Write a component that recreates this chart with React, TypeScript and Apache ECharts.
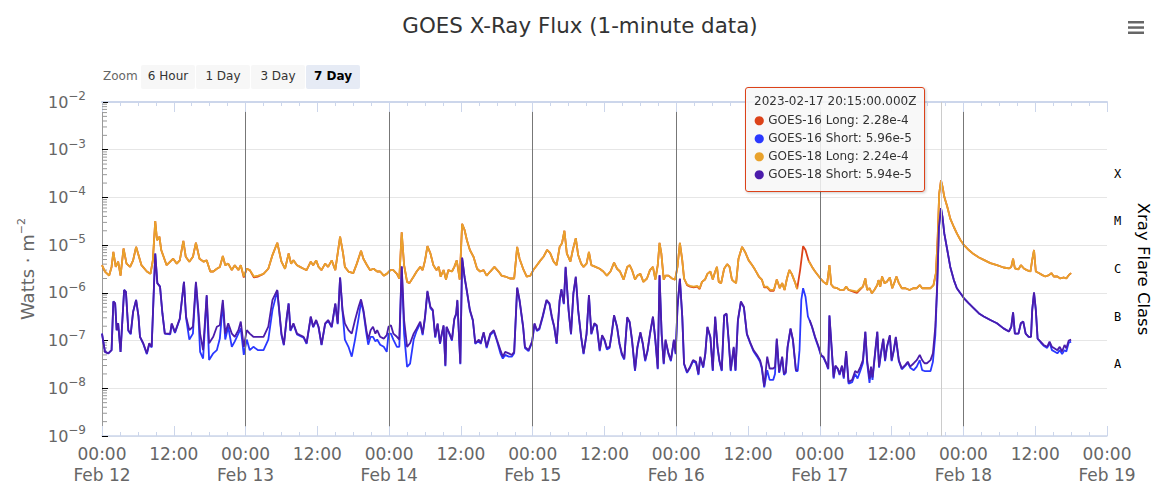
import React, { useEffect, useRef } from "react";
import * as echarts from "echarts";

const START = Date.UTC(2023, 1, 12);
const END = Date.UTC(2023, 1, 19);
const HOUR = 3600 * 1000;
const FONT = '"DejaVu Sans", Verdana, sans-serif';

const TITLE = "GOES X-Ray Flux (1-minute data)";
const seriesNames = ["GOES-16 Long", "GOES-16 Short", "GOES-18 Long", "GOES-18 Short"];
const seriesColors = ["#dc4219", "#2a38ff", "#e9a22c", "#4b1cab"];

// hours since 2023-02-12 00:00Z
const longHours = [
  0, 0.5, 1.2, 1.6, 1.9, 2.3, 2.7, 3.1, 3.6, 4.1,
  4.7, 5.2, 5.7, 6.1, 6.6, 7.5, 8.1, 8.5, 8.9, 9.2,
  9.6, 9.9, 10.3, 10.8, 11.4, 11.9, 12.5, 13.0, 13.6, 14.0,
  14.6, 15.2, 15.7, 16.3, 17.0, 17.5, 18.1, 18.6, 19.2, 19.7,
  20.2, 20.6, 21.1, 21.7, 22.2, 22.8, 23.2, 23.7, 24.2, 24.7,
  25.4, 26.1, 27.0, 27.8, 28.5, 29.3, 30.0, 30.6, 31.2, 31.6,
  32.0, 32.6, 33.1, 33.7, 34.2, 34.9, 35.3, 35.8, 36.2, 36.7,
  37.3, 37.8, 38.4, 39.0, 39.4, 39.8, 40.3, 40.6, 41.2, 42.0,
  42.6, 43.3, 43.7, 44.3, 44.8, 45.4, 46.0, 46.5, 47.1, 47.6,
  48.2, 48.7, 49.3, 49.7, 50.1, 50.5, 51.0, 51.4, 52.1, 52.6,
  53.2, 53.6, 54.0, 54.4, 54.9, 55.4, 55.9, 56.3, 56.6, 57.1,
  57.5, 57.9, 58.5, 58.9, 59.3, 59.8, 60.2, 60.6, 61.0, 61.5,
  62.1, 62.7, 63.2, 63.8, 64.3, 64.9, 65.6, 66.3, 66.8, 67.4,
  68.2, 68.9, 69.4, 69.8, 70.4, 71.0, 71.6, 72.1, 72.7, 73.3,
  73.8, 74.4, 74.9, 75.5, 76.0, 76.5, 76.9, 77.3, 77.7, 78.3,
  78.7, 79.2, 79.6, 80.1, 80.5, 81.0, 81.4, 81.8, 82.5, 83.2,
  83.8, 84.4, 85.0, 85.6, 86.1, 86.6, 87.2, 87.8, 88.2, 88.6,
  89.1, 89.5, 90.0, 90.5, 91.1, 91.6, 92.1, 92.5, 92.9, 93.2,
  93.5, 93.9, 94.2, 94.7, 95.3, 95.8, 96.2, 96.6, 97.0, 97.3,
  97.8, 98.3, 98.9, 99.5, 99.9, 100.3, 100.8, 101.2, 101.7, 102.1,
  102.5, 102.8, 103.1, 103.5, 104.0, 104.5, 104.9, 105.3, 105.7, 106.0,
  106.4, 107.0, 107.5, 108.1, 108.7, 109.2, 109.8, 110.3, 110.7, 111.2,
  111.7, 112.3, 112.8, 113.3, 113.7, 114.1, 114.5, 114.9, 115.3, 115.9,
  116.2, 116.7, 117.2, 117.6, 118.1, 118.7, 119.2, 120.1, 120.6, 121.2,
  121.6, 121.9, 122.3, 122.9, 123.4, 124.0, 124.4, 124.8, 125.7, 126.2,
  126.8, 127.2, 127.6, 127.9, 128.3, 128.7, 129.1, 129.6, 129.8, 130.1,
  130.4, 130.8, 131.2, 131.7, 132.1, 132.5, 132.8, 133.2, 133.7, 134.3,
  135.0, 135.6, 136.2, 136.7, 137.1, 137.6, 138.5, 139.0, 139.4, 139.7,
  139.95, 140.25, 140.5, 140.8, 141.3, 141.8, 142.4, 142.9, 143.5, 144.1,
  144.9, 145.7, 146.6, 147.4, 148.5, 149.6, 150.7, 151.6, 152.0, 152.3,
  152.6, 153.2, 153.6, 154.1, 154.6, 155.2, 155.5, 155.8, 156.1, 156.6,
  157.2, 157.7, 158.3, 158.7, 159.1, 159.7, 160.2, 160.8, 161.2, 161.6,
  162.0,
];

const g18Long = [
  3.8e-6, 2.8e-6, 2.3e-6, 3.5e-6, 7.2e-6, 3.5e-6, 4.5e-6, 2.3e-6, 8.5e-6, 4.1e-6,
  3.5e-6, 4.8e-6, 9.2e-6, 6.2e-6, 3.8e-6, 2.8e-6, 2.5e-6, 4.8e-6, 3.2e-5, 1.27e-5,
  1.5e-5, 7.9e-6, 5.7e-6, 3.8e-6, 4.5e-6, 5.2e-6, 4.1e-6, 4.8e-6, 1.23e-5, 5.7e-6,
  4.5e-6, 5.7e-6, 1.12e-5, 5.2e-6, 4.5e-6, 4.8e-6, 2.8e-6, 2.8e-6, 3.2e-6, 3.5e-6,
  5.9e-6, 3.8e-6, 4.1e-6, 3.0e-6, 3.8e-6, 3.0e-6, 3.8e-6, 2.2e-6, 3.2e-6, 3.0e-6,
  2.2e-6, 2.3e-6, 2.5e-6, 3.2e-6, 6.2e-6, 1.12e-5, 4.5e-6, 3.2e-6, 6.7e-6, 4.1e-6,
  4.8e-6, 3.8e-6, 3.5e-6, 3.2e-6, 3.0e-6, 4.5e-6, 3.8e-6, 4.8e-6, 3.5e-6, 3.0e-6,
  4.1e-6, 3.5e-6, 4.8e-6, 3.0e-6, 6.7e-6, 1.5e-5, 6.7e-6, 3.5e-6, 2.8e-6, 2.6e-6,
  4.1e-6, 7.6e-6, 5.2e-6, 3.8e-6, 3.0e-6, 3.2e-6, 2.8e-6, 2.8e-6, 2.3e-6, 2.5e-6,
  3.0e-6, 3.0e-6, 2.5e-6, 2.0e-6, 1.85e-5, 3.8e-6, 1.7e-6, 1.6e-6, 2.2e-6, 2.8e-6,
  3.5e-6, 3.0e-6, 4.8e-6, 9.5e-6, 6.7e-6, 3.8e-6, 3.0e-6, 3.5e-6, 2.2e-6, 3.0e-6,
  1.9e-6, 3.0e-6, 2.8e-6, 3.5e-6, 4.8e-6, 1.9e-6, 2.8e-5, 2.1e-5, 1.27e-5, 7.9e-6,
  5.7e-6, 3.2e-6, 2.8e-6, 3.0e-6, 2.3e-6, 2.8e-6, 3.5e-6, 2.8e-6, 2.3e-6, 2.2e-6,
  2.0e-6, 2.0e-6, 9.2e-6, 5.2e-6, 3.2e-6, 2.2e-6, 2.3e-6, 3.0e-6, 3.8e-6, 4.8e-6,
  5.7e-6, 7.9e-6, 6.9e-6, 4.5e-6, 3.8e-6, 9.2e-6, 1.1e-5, 2.0e-5, 6.7e-6, 4.5e-6,
  7.9e-6, 1.4e-5, 6.2e-6, 4.1e-6, 3.5e-6, 4.1e-6, 7.2e-6, 3.8e-6, 3.5e-6, 3.2e-6,
  2.8e-6, 2.3e-6, 2.8e-6, 4.3e-6, 3.2e-6, 2.8e-6, 1.9e-6, 3.5e-6, 3.8e-6, 3.0e-6,
  1.9e-6, 2.3e-6, 2.5e-6, 1.7e-6, 2.0e-6, 3.0e-6, 3.5e-6, 1.9e-6, 3.8e-6, 1.12e-5,
  6.7e-6, 1.9e-6, 2.3e-6, 2.3e-6, 2.0e-6, 1.9e-6, 3.5e-6, 1.12e-5, 4.8e-6, 2.0e-6,
  1.5e-6, 1.4e-6, 1.35e-6, 1.4e-6, 1.25e-6, 1.7e-6, 1.9e-6, 2.5e-6, 2.8e-6, 1.9e-6,
  2.8e-6, 3.5e-6, 1.7e-6, 1.6e-6, 3.2e-6, 4.0e-6, 3.5e-6, 1.9e-6, 1.7e-6, 1.6e-6,
  5.2e-6, 9.2e-6, 7.2e-6, 4.8e-6, 3.8e-6, 3.0e-6, 2.2e-6, 1.9e-6, 1.35e-6, 1.35e-6,
  1.15e-6, 1.15e-6, 1.9e-6, 1.25e-6, 1.6e-6, 1.15e-6, 2.0e-6, 3.0e-6, 2.5e-6, 1.6e-6,
  1.2e-6, null, null, null, 4.7e-6, 3.5e-6, 2.8e-6, 2.0e-6, 1.7e-6, 1.5e-6,
  3.8e-6, 1.5e-6, 1.3e-6, 1.25e-6, 1.15e-6, 1.15e-6, 1.35e-6, 1.15e-6, 1.1e-6, 1.06e-6,
  1.25e-6, 1.35e-6, 2.0e-6, 1.15e-6, 1.25e-6, 9.8e-7, 1.15e-6, 1.46e-6, 1.85e-6, 1.35e-6,
  2.2e-6, 1.6e-6, 1.7e-6, 2.1e-6, 1.25e-6, 1.7e-6, 2.2e-6, 1.6e-6, 1.25e-6, 1.25e-6,
  1.15e-6, 1.25e-6, 1.25e-6, 1.46e-6, 1.25e-6, 1.25e-6, 1.25e-6, 1.46e-6, 2.6e-6, 1.5e-5,
  1.2e-4, 2.24e-4, 1.7e-4, 1.03e-4, 6.4e-5, 3.6e-5, 2.4e-5, 1.76e-5, 1.28e-5, 1.0e-5,
  7.9e-6, 6.5e-6, 5.5e-6, 4.9e-6, 4.2e-6, 3.8e-6, 3.4e-6, 3.25e-6, 3.5e-6, 5.2e-6,
  3.25e-6, 3.1e-6, 3.8e-6, 3.25e-6, 3.0e-6, 2.8e-6, 4.9e-6, 7.9e-6, 2.8e-6, 2.6e-6,
  2.35e-6, 2.2e-6, 2.35e-6, 2.6e-6, 2.2e-6, 2.2e-6, 2.0e-6, 2.1e-6, 2.0e-6, 2.35e-6,
  2.6e-6,
];

const g16Long = [
  3.8e-6, 2.8e-6, 2.3e-6, 3.5e-6, 7.2e-6, 3.5e-6, 4.5e-6, 2.3e-6, 8.5e-6, 4.1e-6,
  3.5e-6, 4.8e-6, 9.2e-6, 6.2e-6, 3.8e-6, 2.8e-6, 2.5e-6, 4.8e-6, 3.2e-5, 1.27e-5,
  1.5e-5, 7.9e-6, 5.7e-6, 3.8e-6, 4.5e-6, 5.2e-6, 4.1e-6, 4.8e-6, 1.23e-5, 5.7e-6,
  4.5e-6, 5.7e-6, 1.12e-5, 5.2e-6, 4.5e-6, 4.8e-6, 2.8e-6, 2.8e-6, 3.2e-6, 3.5e-6,
  5.9e-6, 3.8e-6, 4.1e-6, 3.0e-6, 3.8e-6, 3.0e-6, 3.8e-6, 2.1e-6, 3.2e-6, 3.0e-6,
  2.1e-6, 2.2e-6, 2.5e-6, 3.2e-6, 6.2e-6, 1.12e-5, 4.5e-6, 3.2e-6, 6.7e-6, 4.1e-6,
  4.8e-6, 3.8e-6, 3.5e-6, 3.2e-6, 3.0e-6, 4.5e-6, 3.8e-6, 4.8e-6, 3.5e-6, 3.0e-6,
  4.1e-6, 3.5e-6, 4.8e-6, 3.0e-6, 6.7e-6, 1.5e-5, 6.7e-6, 3.5e-6, 2.8e-6, 2.6e-6,
  4.1e-6, 7.6e-6, 5.2e-6, 3.8e-6, 3.0e-6, 3.2e-6, 2.8e-6, 2.8e-6, 2.3e-6, 2.5e-6,
  3.0e-6, 3.0e-6, 2.5e-6, 2.0e-6, 1.85e-5, 3.8e-6, 1.7e-6, 1.6e-6, 2.2e-6, 2.8e-6,
  3.5e-6, 3.0e-6, 4.8e-6, 9.5e-6, 6.7e-6, 3.8e-6, 3.0e-6, 3.5e-6, 2.2e-6, 3.0e-6,
  1.9e-6, 3.0e-6, 2.8e-6, 3.5e-6, 4.8e-6, 1.9e-6, 2.8e-5, 2.1e-5, 1.27e-5, 7.9e-6,
  5.7e-6, 3.2e-6, 2.8e-6, 3.0e-6, 2.3e-6, 2.8e-6, 3.5e-6, 2.8e-6, 2.3e-6, 2.2e-6,
  2.0e-6, 2.0e-6, 9.2e-6, 5.2e-6, 3.2e-6, 2.2e-6, 2.3e-6, 3.0e-6, 3.8e-6, 4.8e-6,
  5.7e-6, 7.9e-6, 6.9e-6, 4.5e-6, 3.8e-6, 9.2e-6, 1.1e-5, 2.0e-5, 6.7e-6, 4.5e-6,
  7.9e-6, 1.4e-5, 6.2e-6, 4.1e-6, 3.5e-6, 4.1e-6, 7.2e-6, 3.8e-6, 3.5e-6, 3.2e-6,
  2.8e-6, 2.3e-6, 2.8e-6, 4.3e-6, 3.2e-6, 2.8e-6, 1.9e-6, 3.5e-6, 3.8e-6, 3.0e-6,
  1.9e-6, 2.3e-6, 2.5e-6, 1.7e-6, 2.0e-6, 3.0e-6, 3.5e-6, 1.9e-6, 3.8e-6, 1.12e-5,
  6.7e-6, 1.9e-6, 2.3e-6, 2.3e-6, 2.0e-6, 1.9e-6, 3.5e-6, 1.12e-5, 4.8e-6, 2.0e-6,
  1.45e-6, 1.35e-6, 1.3e-6, 1.35e-6, 1.2e-6, 1.7e-6, 1.9e-6, 2.5e-6, 2.8e-6, 1.9e-6,
  2.8e-6, 3.5e-6, 1.7e-6, 1.6e-6, 3.2e-6, 4.0e-6, 3.5e-6, 1.9e-6, 1.7e-6, 1.6e-6,
  5.2e-6, 9.2e-6, 7.2e-6, 4.8e-6, 3.8e-6, 3.0e-6, 2.2e-6, 1.9e-6, 1.3e-6, 1.3e-6,
  1.1e-6, 1.1e-6, 1.9e-6, 1.25e-6, 1.6e-6, 1.15e-6, 2.0e-6, 3.0e-6, 2.5e-6, 1.6e-6,
  1.2e-6, 3.0e-6, 9.5e-6, 7.9e-6, 4.8e-6, 3.5e-6, 2.8e-6, 2.0e-6, 1.7e-6, 1.5e-6,
  3.8e-6, 1.5e-6, 1.3e-6, 1.25e-6, 1.15e-6, 1.15e-6, 1.35e-6, 1.15e-6, 1.05e-6, 1.0e-6,
  1.2e-6, 1.35e-6, 2.0e-6, 1.15e-6, 1.25e-6, 9.8e-7, 1.15e-6, 1.46e-6, 1.85e-6, 1.35e-6,
  2.2e-6, 1.6e-6, 1.7e-6, 2.1e-6, 1.25e-6, 1.7e-6, 2.2e-6, 1.6e-6, 1.25e-6, 1.25e-6,
  1.15e-6, 1.25e-6, 1.25e-6, 1.46e-6, 1.25e-6, 1.25e-6, 1.25e-6, 1.46e-6, 2.6e-6, 1.5e-5,
  1.2e-4, 2.28e-4, 1.7e-4, 1.03e-4, 6.4e-5, 3.6e-5, 2.4e-5, 1.76e-5, 1.28e-5, 1.0e-5,
  7.9e-6, 6.5e-6, 5.5e-6, 4.9e-6, 4.2e-6, 3.8e-6, 3.4e-6, 3.25e-6, 3.5e-6, 5.2e-6,
  3.25e-6, 3.1e-6, 3.8e-6, 3.25e-6, 3.0e-6, 2.8e-6, 4.9e-6, 7.9e-6, 2.8e-6, 2.6e-6,
  2.35e-6, 2.2e-6, 2.35e-6, 2.6e-6, 2.2e-6, 2.2e-6, 2.0e-6, 2.1e-6, 2.0e-6, 2.35e-6,
  2.6e-6,
];

const shortHours = [
  0, 0.5, 1.06, 1.6, 1.9, 2.2, 2.45, 2.7, 3.1, 3.7,
  4.0, 4.4, 4.8, 5.2, 5.7, 6.1, 6.35, 6.9, 7.5, 7.9,
  8.3, 8.6, 8.9, 9.25, 9.7, 10.1, 10.5, 11.4, 11.65, 12.2,
  13.0, 13.7, 14.05, 14.6, 15.2, 15.7, 16.1, 16.4, 16.9, 17.5,
  17.9, 18.6, 19.2, 19.7, 20.2, 20.6, 21.1, 21.7, 22.2, 22.8,
  23.2, 23.7, 24.2, 24.7, 25.3, 26.1, 27.0, 27.8, 28.5, 29.3,
  30.0, 30.4, 30.9, 31.2, 31.5, 32.0, 32.6, 33.1, 33.7, 34.2,
  34.9, 35.3, 35.8, 36.2, 36.7, 37.3, 37.8, 38.4, 39.0, 39.4,
  39.8, 40.2, 40.6, 41.2, 41.75, 42.3, 42.9, 43.3, 43.7, 44.2,
  44.5, 44.9, 45.3, 45.7, 46.0, 46.5, 47.1, 47.6, 47.9, 48.3,
  48.7, 49.3, 49.7, 50.1, 50.5, 51.0, 51.5, 52.1, 52.6, 53.2,
  53.6, 54.0, 54.4, 54.9, 55.3, 55.7, 56.1, 56.5, 56.8, 57.1,
  57.4, 57.6, 58.1, 58.5, 58.9, 59.2, 59.4, 59.9, 60.2, 60.6,
  61.0, 61.5, 62.0, 62.4, 63.0, 63.3, 63.8, 64.3, 64.9, 65.5,
  66.0, 66.6, 67.0, 67.4, 68.0, 68.5, 68.9, 69.4, 69.8, 70.4,
  70.7, 71.3, 71.9, 72.3, 72.7, 73.1, 73.7, 74.3, 74.8, 75.2,
  75.6, 76.0, 76.5, 76.8, 77.2, 77.5, 78.0, 78.4, 78.8, 79.2,
  79.6, 80.1, 80.5, 81.0, 81.4, 81.8, 82.3, 82.7, 83.2, 83.6,
  84.0, 84.4, 84.85, 85.2, 85.6, 86.1, 86.5, 86.9, 87.3, 87.8,
  88.2, 88.6, 89.1, 89.5, 90.0, 90.4, 90.8, 91.2, 91.6, 92.1,
  92.5, 92.9, 93.2, 93.55, 93.9, 94.2, 94.7, 95.1, 95.6, 95.9,
  96.2, 96.6, 97.0, 97.3, 97.8, 98.3, 98.8, 99.3, 99.7, 100.0,
  100.5, 100.85, 101.2, 101.7, 102.1, 102.5, 102.9, 103.2, 103.6, 104.0,
  104.4, 104.75, 105.1, 105.6, 105.9, 106.3, 106.8, 107.3, 107.8, 108.4,
  108.9, 109.5, 110.0, 110.3, 110.7, 111.2, 111.6, 112.2, 112.5, 112.8,
  113.2, 113.7, 114.0, 114.3, 114.6, 115.1, 115.5, 116.0, 116.3, 116.6,
  116.9, 117.2, 117.6, 118.0, 118.3, 118.7, 119.2, 119.8, 120.2, 120.6,
  121.1, 121.4, 121.6, 122.0, 122.3, 122.6, 123.0, 123.3, 123.7, 124.0,
  124.4, 124.8, 125.4, 125.9, 126.3, 126.8, 127.2, 127.6, 127.9, 128.3,
  128.55, 128.8, 129.1, 129.6, 129.9, 130.2, 130.6, 130.9, 131.2, 131.7,
  132.0, 132.35, 132.7, 133.2, 133.7, 134.3, 134.7, 135.1, 135.7, 136.2,
  136.7, 137.1, 137.5, 137.9, 138.5, 138.9, 139.3, 139.6, 139.9, 140.25,
  140.5, 140.8, 141.3, 141.8, 142.4, 142.9, 143.5, 144.1, 144.9, 145.7,
  146.6, 147.4, 148.5, 149.6, 150.7, 151.6, 152.0, 152.3, 152.6, 153.2,
  153.6, 154.0, 154.4, 154.9, 155.3, 155.5, 155.8, 156.1, 156.4, 156.9,
  157.4, 158.0, 158.4, 158.8, 159.2, 159.7, 160.1, 160.5, 160.9, 161.2,
  161.6, 162.0,
];

const g18Short = [
  1.4e-7, 5.8e-8, 5.4e-8, 6.3e-8, 6.6e-7, 6.0e-7, 1.65e-7, 2.3e-7, 5.8e-8, 1.15e-6,
  1.05e-6, 1.65e-7, 1.4e-7, 4.0e-7, 7.1e-7, 3.2e-7, 1.2e-7, 8.8e-8, 5.4e-8, 8.8e-8,
  7.4e-8, 7.1e-7, 6.7e-6, 1.6e-6, 1.35e-6, 3.7e-7, 1.4e-7, 1.4e-7, 2.3e-7, 1.5e-7,
  2.9e-7, 1.7e-6, 3.2e-7, 1.65e-7, 1.95e-7, 1.7e-6, 4.4e-7, 1.4e-7, 6.3e-8, 9.0e-7,
  8.8e-8, 1.2e-7, 1.95e-7, 2.1e-7, 7.1e-7, 1.4e-7, 2.3e-7, 1.4e-7, 1.2e-7, 1.65e-7,
  2.5e-7, 7.4e-8, 1.65e-7, 1.4e-7, 1.2e-7, 1.2e-7, 1.2e-7, 1.95e-7, 7.1e-7, 1.15e-6,
  1.4e-7, 8.2e-8, 3.2e-7, 6.0e-7, 1.65e-7, 2.3e-7, 1.4e-7, 1.3e-7, 1.2e-7, 8.8e-8,
  3.2e-7, 1.95e-7, 2.7e-7, 1.95e-7, 8.2e-8, 2.3e-7, 2.7e-7, 1.95e-7, 6.0e-7, 2.3e-7,
  2.1e-6, 4.4e-7, 2.3e-7, 1.65e-7, 1.4e-7, 2.7e-7, 5.1e-7, 7.3e-7, 4.4e-7, 1.65e-7,
  1.05e-7, 1.65e-7, 1.95e-7, 1.4e-7, 1.65e-7, 1.2e-7, 1.1e-7, 1.3e-7, 1.95e-7, 2.1e-7,
  1.4e-7, 1.2e-7, 1.05e-7, 3.6e-6, 2.7e-7, 7.4e-8, 8.8e-8, 1.4e-7, 1.8e-7, 2.5e-7,
  1.4e-7, 3.2e-7, 1.1e-6, 5.1e-7, 4.4e-7, 1.2e-7, 2.3e-7, 8.8e-8, 1.4e-7, 2.1e-7,
  3.0e-8, 1.95e-7, 1.4e-7, 1.05e-7, 2.9e-7, 3.7e-7, 7.1e-7, 3.3e-8, 5.5e-6, 2.2e-6,
  1.1e-6, 4.4e-7, 2.7e-7, 8.8e-8, 1.05e-7, 8.8e-8, 1.5e-7, 7.4e-8, 1.4e-7, 1.65e-7,
  1.05e-7, 6.3e-8, 4.6e-8, 5.8e-8, 5.4e-8, 5.0e-8, 5.8e-8, 1.3e-6, 7.1e-7, 1.95e-7,
  7.4e-8, 6.3e-8, 9.6e-8, 2.3e-7, 1.65e-7, 1.8e-7, 3.4e-7, 7.1e-7, 6.0e-7, 3.2e-7,
  1.95e-7, 8.8e-8, 7.1e-7, 1.2e-6, 6.0e-7, 3.5e-6, 4.4e-7, 1.4e-7, 9.9e-7, 2.2e-6,
  4.4e-7, 1.2e-7, 5.4e-8, 1.4e-7, 9.0e-7, 1.4e-7, 2.3e-7, 2.1e-7, 6.3e-8, 1.3e-7,
  1.05e-7, 7.0e-8, 7.4e-8, 1.4e-7, 3.4e-7, 1.95e-7, 8.8e-8, 5.4e-8, 4.2e-8, 3.1e-7,
  2.5e-7, 1.05e-7, 2.4e-8, 7.4e-8, 1.5e-7, 8.8e-8, 3.9e-8, 6.3e-8, 1.4e-7, 3.2e-7,
  1.05e-7, 2.6e-8, 2.35e-6, 1.4e-7, 3.3e-8, 1.05e-7, 5.4e-8, 3.9e-8, 1.05e-7, 5.4e-8,
  5.1e-7, 2.0e-6, 3.2e-7, 3.3e-8, 2.2e-8, 2.8e-8, 3.9e-8, 3.6e-8, 2.0e-8, 4.6e-8,
  2.8e-8, 5.4e-8, 1.95e-7, 1.2e-7, 2.4e-8, 3.2e-7, 7.4e-8, 3.9e-8, 2.4e-8, 3.4e-7,
  3.7e-7, 1.05e-7, 2.4e-8, 7.4e-8, 2.4e-8, 2.7e-7, 6.6e-7, 5.1e-7, 1.4e-7, 8.8e-8,
  6.3e-8, 5.0e-8, 3.9e-8, 2.8e-8, 1.1e-8, 4.6e-8, 2.6e-8, 2.6e-8, 2.8e-8, 1.1e-7,
  2.2e-8, 4.6e-8, 2.0e-8, 2.2e-8, 7.4e-8, 1.8e-7, 1.05e-7, 2.4e-8, 2.4e-8, null,
  null, null, null, null, 2.7e-7, 1.95e-7, 1.2e-7, 7.4e-8, 5.0e-8, 4.6e-8,
  3.3e-8, 2.6e-8, 3.4e-7, 6.3e-8, 1.7e-8, 3.0e-8, 2.6e-8, 2.0e-8, 3.0e-8, 1.7e-8,
  6.0e-8, 1.35e-8, 1.5e-8, 2.3e-8, 2.1e-8, 2.85e-8, 3.9e-8, 1.55e-7, 3.9e-8, 1.6e-8,
  2.85e-8, 1.7e-8, 3.9e-8, 1.55e-7, 2.85e-8, 5.4e-8, 1.1e-7, 3.9e-8, 7.4e-8, 1.3e-7,
  3.9e-8, 6.3e-8, 1.2e-7, 3.9e-8, 2.6e-8, 3.1e-8, 3.6e-8, 2.85e-8, 3.35e-8, 3.9e-8,
  5.0e-8, 3.9e-8, 3.35e-8, 3.35e-8, 3.9e-8, 5.4e-8, 1.95e-7, 1.35e-6, 2.4e-5, 5.94e-5,
  3.9e-5, 1.76e-5, 7.9e-6, 3.5e-6, 1.85e-6, 1.25e-6, 9.8e-7, 7.7e-7, 6.0e-7, 4.8e-7,
  3.7e-7, 3.2e-7, 2.7e-7, 2.3e-7, 1.8e-7, 1.55e-7, 1.95e-7, 3.9e-7, 1.4e-7, 1.4e-7,
  2.3e-7, 2.5e-7, 1.4e-7, 1.2e-7, 1.2e-7, 4.4e-7, 1.02e-6, 4.4e-7, 1.1e-7, 9.5e-8,
  8.1e-8, 7.4e-8, 9.5e-8, 7.4e-8, 6.9e-8, 6.3e-8, 7.4e-8, 5.9e-8, 8.1e-8, 6.9e-8,
  1.0e-7, 1.05e-7,
];

const g16Short = [
  1.4e-7, 5.8e-8, 5.4e-8, 6.3e-8, 6.6e-7, 6.0e-7, 1.65e-7, 2.3e-7, 5.8e-8, 1.15e-6,
  1.05e-6, 1.6e-7, 1.35e-7, 4.0e-7, 7.1e-7, 3.2e-7, 1.2e-7, 8.5e-8, 5.2e-8, 8.5e-8,
  7.2e-8, 7.1e-7, 6.7e-6, 1.6e-6, 1.35e-6, 3.7e-7, 1.4e-7, 1.35e-7, 2.2e-7, 1.45e-7,
  2.8e-7, 1.7e-6, 3.0e-7, 1.05e-7, 1.4e-7, 1.6e-6, 3.5e-7, 5.8e-8, 4.2e-8, 8.5e-7,
  3.9e-8, 5.4e-8, 6.3e-8, 1.1e-7, 6.0e-7, 1.05e-7, 1.95e-7, 7.4e-8, 9.6e-8, 1.4e-7,
  1.8e-7, 5.0e-8, 1.05e-7, 6.3e-8, 7.4e-8, 6.3e-8, 6.3e-8, 1.05e-7, 4.4e-7, 1.1e-6,
  1.3e-7, 8.0e-8, 3.1e-7, 6.0e-7, 1.6e-7, 2.2e-7, 1.35e-7, 1.25e-7, 1.15e-7, 8.5e-8,
  3.1e-7, 1.9e-7, 2.6e-7, 1.9e-7, 8.0e-8, 2.2e-7, 2.6e-7, 1.9e-7, 5.8e-7, 2.2e-7,
  2.1e-6, 4.2e-7, 1.05e-7, 7.4e-8, 4.6e-8, 1.05e-7, 3.0e-7, 6.5e-7, 4.0e-7, 1.4e-7,
  8.2e-8, 1.2e-7, 1.2e-7, 9.6e-8, 1.05e-7, 8.2e-8, 7.4e-8, 5.8e-8, 1.4e-7, 1.4e-7,
  1.05e-7, 7.4e-8, 7.4e-8, 3.5e-6, 1.4e-7, 2.8e-8, 3.3e-8, 1.05e-7, 1.6e-7, 2.3e-7,
  1.3e-7, 3.0e-7, 1.05e-6, 4.8e-7, 4.2e-7, 1.15e-7, 2.2e-7, 8.5e-8, 1.35e-7, 2.0e-7,
  2.9e-8, 1.9e-7, 1.35e-7, 1.0e-7, 2.8e-7, 3.5e-7, 6.8e-7, 3.2e-8, 5.4e-6, 2.1e-6,
  1.05e-6, 4.2e-7, 2.6e-7, 8.5e-8, 1.0e-7, 8.5e-8, 1.45e-7, 7.0e-8, 1.3e-7, 1.55e-7,
  1.0e-7, 5.4e-8, 4.2e-8, 5.0e-8, 4.6e-8, 4.6e-8, 5.4e-8, 1.25e-6, 6.8e-7, 1.9e-7,
  7.0e-8, 6.0e-8, 9.2e-8, 2.2e-7, 1.6e-7, 1.7e-7, 3.2e-7, 6.8e-7, 5.8e-7, 3.0e-7,
  1.9e-7, 8.5e-8, 6.8e-7, 1.15e-6, 5.8e-7, 3.4e-6, 4.2e-7, 1.35e-7, 9.5e-7, 2.1e-6,
  4.2e-7, 1.15e-7, 5.2e-8, 1.35e-7, 8.7e-7, 1.35e-7, 2.2e-7, 2.0e-7, 6.0e-8, 1.25e-7,
  1.0e-7, 6.5e-8, 7.0e-8, 1.35e-7, 3.3e-7, 1.9e-7, 8.5e-8, 5.0e-8, 4.0e-8, 3.0e-7,
  2.4e-7, 1.0e-7, 2.3e-8, 7.0e-8, 1.45e-7, 8.5e-8, 3.7e-8, 6.0e-8, 1.35e-7, 3.1e-7,
  1.0e-7, 2.5e-8, 2.3e-6, 1.35e-7, 3.2e-8, 1.0e-7, 5.2e-8, 3.7e-8, 1.0e-7, 5.2e-8,
  4.9e-7, 1.95e-6, 3.1e-7, 3.2e-8, 2.1e-8, 2.7e-8, 3.7e-8, 3.4e-8, 1.9e-8, 4.4e-8,
  2.7e-8, 5.2e-8, 1.9e-7, 1.15e-7, 2.3e-8, 3.1e-7, 7.0e-8, 3.7e-8, 2.3e-8, 3.3e-7,
  3.6e-7, 1.0e-7, 2.3e-8, 7.0e-8, 2.3e-8, 2.6e-7, 6.4e-7, 4.9e-7, 1.35e-7, 8.5e-8,
  6.0e-8, 4.6e-8, 3.6e-8, 2.6e-8, 1.05e-8, 2.4e-8, 1.5e-8, 1.5e-8, 2.0e-8, 1.05e-7,
  2.1e-8, 4.4e-8, 1.9e-8, 2.1e-8, 7.0e-8, 1.75e-7, 1.0e-7, 2.3e-8, 2.3e-8, 6.3e-8,
  7.1e-7, 1.25e-6, 8.3e-7, 3.2e-7, 2.6e-7, 1.9e-7, 1.15e-7, 7.0e-8, 4.8e-8, 4.4e-8,
  3.2e-8, 2.5e-8, 3.3e-7, 6.0e-8, 1.6e-8, 2.9e-8, 2.5e-8, 1.9e-8, 2.9e-8, 1.6e-8,
  5.5e-8, 1.25e-8, 1.35e-8, 2.0e-8, 1.6e-8, 2.4e-8, 3.4e-8, 1.5e-7, 3.4e-8, 1.3e-8,
  2.5e-8, 1.5e-8, 3.6e-8, 1.5e-7, 2.7e-8, 5.2e-8, 1.05e-7, 3.7e-8, 7.0e-8, 1.25e-7,
  3.7e-8, 6.0e-8, 1.15e-7, 3.7e-8, 2.5e-8, 3.0e-8, 3.4e-8, 2.7e-8, 2.4e-8, 2.85e-8,
  3.9e-8, 2.4e-8, 2.3e-8, 2.3e-8, 2.3e-8, 3.6e-8, 1.3e-7, 1.2e-6, 2.3e-5, 5.96e-5,
  3.9e-5, 1.76e-5, 7.9e-6, 3.5e-6, 1.85e-6, 1.25e-6, 9.8e-7, 7.7e-7, 6.0e-7, 4.8e-7,
  3.7e-7, 3.2e-7, 2.7e-7, 2.3e-7, 1.8e-7, 1.55e-7, 1.95e-7, 3.9e-7, 1.4e-7, 1.4e-7,
  2.3e-7, 2.5e-7, 1.4e-7, 1.2e-7, 1.2e-7, 4.4e-7, 1.0e-6, 4.4e-7, 1.1e-7, 9.2e-8,
  7.8e-8, 7.0e-8, 9.0e-8, 6.3e-8, 5.9e-8, 5.4e-8, 6.3e-8, 5.2e-8, 6.3e-8, 5.9e-8,
  9.0e-8, 9.5e-8,
];

// day plot lines (hours since start) and the hovered instant
const dayLineHours = [24, 48, 72, 96, 120, 144];
const tooltipHour = 140.25;

// axis decorations
const monthNames = ["Jan", "Feb", "Mar", "Apr", "May", "Jun", "Jul", "Aug", "Sep", "Oct", "Nov", "Dec"];
const classLabels = ["A", "B", "C", "M", "X"];
const classExponents = [-7.5, -6.5, -5.5, -4.5, -3.5];
const minorDecades = [-9, -8, -7, -6, -5, -4, -3];
const minorMultipliers = [2, 3, 4, 5, 6, 7, 8, 9];
const zoomButtons = ["6 Hour", "1 Day", "3 Day", "7 Day"];
const selectedZoom = "7 Day";

const toData = (hours: number[], vals: (number | null)[]) =>
  hours.map((h, i) => [START + h * HOUR, vals[i]]);

function buildOption() {
  const minorTickData: number[][] = [];
  minorDecades.forEach((e) =>
    minorMultipliers.forEach((m) => minorTickData.push([START, m * Math.pow(10, e)]))
  );

  const lineSeries = (name: string, idx: number, data: any[], extra: any = {}) => ({
    name,
    type: "line",
    xAxisIndex: 0,
    yAxisIndex: 0,
    data,
    symbol: "none",
    showSymbol: false,
    connectNulls: false,
    lineStyle: { color: seriesColors[idx], width: 1.8 },
    itemStyle: { color: seriesColors[idx] },
    emphasis: { disabled: true },
    ...extra,
  });

  const xAxisCommon = {
    type: "value",
    min: START,
    max: END,
    interval: 12 * HOUR,
    splitLine: { show: false },
    axisTick: { show: true, inside: true, length: 10, lineStyle: { color: "#ccd6eb" } },
    minorTick: { show: true, splitNumber: 4, length: 4, lineStyle: { color: "#ccd6eb" } },
  };

  const buttonGraphics: any[] = [];
  zoomButtons.forEach((label, i) => {
    const x = 141 + i * 55;
    const sel = label === selectedZoom;
    buttonGraphics.push({
      type: "rect",
      x,
      y: 65,
      shape: { x: 0, y: 0, width: 54, height: 24, r: 2 },
      style: { fill: sel ? "#e6ebf5" : "#f7f7f7" },
      silent: true,
    });
    buttonGraphics.push({
      type: "text",
      x: x + 27,
      y: 76,
      style: {
        text: label,
        align: "center",
        verticalAlign: "middle",
        fontSize: 12,
        fontFamily: FONT,
        fontWeight: sel ? "bold" : "normal",
        fill: sel ? "#000" : "#333",
      },
      silent: true,
    });
  });

  return {
    animation: false,
    backgroundColor: "#fff",
    textStyle: { fontFamily: FONT },
    title: {
      text: TITLE,
      left: "center",
      top: 10,
      textStyle: { fontSize: 21.4, fontWeight: "normal", color: "#333", fontFamily: FONT },
    },
    grid: { left: 102, right: 53, top: 102, bottom: 62, containLabel: false },
    tooltip: {
      trigger: "axis",
      triggerOn: "none",
      alwaysShowContent: true,
      showContent: true,
      transitionDuration: 0,
      position: [745, 87],
      backgroundColor: "rgba(247,247,247,0.85)",
      borderColor: seriesColors[0],
      borderWidth: 1,
      padding: [5, 8, 8, 8],
      textStyle: { color: "#333", fontSize: 12, fontFamily: FONT },
      extraCssText: "border-radius:3px;box-shadow:1px 1px 3px rgba(0,0,0,0.2);",
      axisPointer: {
        type: "line",
        snap: true,
        lineStyle: { color: "#cccccc", width: 1, type: "solid" },
        label: { show: false },
      },
      formatter: (params: any) => {
        const list = (Array.isArray(params) ? params : [params]).filter(
          (p: any) => seriesNames.includes(p.seriesName) && p.value && p.value[1] != null
        );
        if (!list.length) return "";
        const t = new Date(list[0].value[0]).toISOString().replace("T", " ");
        let html = `<div style="font-size:12px;line-height:16px;margin-bottom:2px">${t}</div>`;
        list.forEach((p: any) => {
          html += `<div style="font-size:12px;line-height:18px;white-space:nowrap"><span style="color:${p.color}">\u25CF</span> ${p.seriesName}: ${Number(p.value[1]).toExponential(2)}</div>`;
        });
        return html;
      },
    },
    xAxis: [
      {
        ...xAxisCommon,
        position: "bottom",
        axisLine: { show: true, lineStyle: { color: "#ccd6eb", width: 1.5 } },
        axisLabel: {
          show: true,
          margin: 7,
          fontSize: 17,
          lineHeight: 21,
          color: "#666",
          fontFamily: FONT,
          showMinLabel: true,
          showMaxLabel: true,
          formatter: (v: number) => {
            const d = new Date(v);
            const hh = String(d.getUTCHours()).padStart(2, "0");
            if (d.getUTCHours() === 0) return `${hh}:00\n${monthNames[d.getUTCMonth()]} ${d.getUTCDate()}`;
            return `${hh}:00`;
          },
        },
      },
      {
        ...xAxisCommon,
        position: "top",
        axisLine: { show: true, lineStyle: { color: "#ccd6eb", width: 2 } },
        axisLabel: { show: false },
      },
    ],
    yAxis: [
      {
        type: "log",
        logBase: 10,
        min: 1e-9,
        max: 1e-2,
        splitNumber: 7,
        position: "left",
        axisLine: { show: true, lineStyle: { color: "#999", width: 1 } },
        axisTick: { show: true, inside: true, length: 6, lineStyle: { color: "#000" } },
        splitLine: { show: true, lineStyle: { color: "#e6e6e6", width: 1 } },
        axisLabel: {
          margin: 16,
          formatter: (v: number) => {
            const e = Math.round(Math.log10(v));
            return `{b|10}{s|\u2212${Math.abs(e)}}`;
          },
          rich: {
            b: { fontSize: 16, color: "#666", fontFamily: FONT },
            s: { fontSize: 12, color: "#666", fontFamily: FONT, padding: [0, 0, 12, 0] },
          },
        },
        name: "{n|Watts \u00B7 m}{s|\u22122}",
        nameLocation: "middle",
        nameGap: 63,
        nameTextStyle: {
          rich: {
            n: { fontSize: 18, color: "#666", fontFamily: FONT },
            s: { fontSize: 11, color: "#666", fontFamily: FONT, padding: [0, 0, 12, 0] },
          },
        },
      },
      {
        type: "value",
        min: -9,
        max: -2,
        interval: 0.5,
        position: "right",
        axisLine: { show: false },
        axisTick: { show: false },
        splitLine: { show: false },
        axisLabel: {
          margin: 7,
          fontSize: 12,
          color: "#000",
          fontFamily: '"DejaVu Sans Mono", monospace',
          formatter: (v: number) => {
            const i = classExponents.indexOf(v);
            return i >= 0 ? classLabels[i] : "";
          },
        },
        name: "Xray Flare Class",
        nameLocation: "middle",
        nameRotate: -90,
        nameGap: 28,
        nameTextStyle: { fontSize: 16.5, color: "#000", fontFamily: FONT },
      },
    ],
    series: [
      lineSeries("GOES-16 Long", 0, toData(longHours, g16Long), {
        markLine: {
          silent: true,
          symbol: ["none", "none"],
          label: { show: false },
          lineStyle: { color: "#777", width: 1, type: "solid" },
          emphasis: { disabled: true },
          data: dayLineHours.map((h) => [
            { coord: [START + h * HOUR, 6.2e-3] },
            { coord: [START + h * HOUR, 1.6e-9] },
          ]),
        },
      }),
      lineSeries("GOES-16 Short", 1, toData(shortHours, g16Short)),
      lineSeries("GOES-18 Long", 2, toData(longHours, g18Long)),
      lineSeries("GOES-18 Short", 3, toData(shortHours, g18Short)),
      {
        name: "minorTicks",
        type: "custom",
        xAxisIndex: 0,
        yAxisIndex: 0,
        silent: true,
        z: 3,
        tooltip: { show: false },
        data: minorTickData,
        renderItem: (_params: any, api: any) => {
          const p = api.coord([api.value(0), api.value(1)]);
          return {
            type: "line",
            shape: { x1: p[0], y1: p[1], x2: p[0] + 5, y2: p[1] },
            style: { stroke: "#999", lineWidth: 1 },
          };
        },
      },
    ],
    graphic: [
      {
        type: "text",
        x: 103,
        y: 76,
        style: { text: "Zoom", align: "left", verticalAlign: "middle", fontSize: 12, fontFamily: FONT, fill: "#666" },
        silent: true,
      },
      ...buttonGraphics,
      { type: "rect", x: 1128, y: 21, shape: { width: 16, height: 2.5 }, style: { fill: "#666" }, silent: true },
      { type: "rect", x: 1128, y: 26.3, shape: { width: 16, height: 2.5 }, style: { fill: "#666" }, silent: true },
      { type: "rect", x: 1128, y: 31.5, shape: { width: 16, height: 2.5 }, style: { fill: "#666" }, silent: true },
    ],
  };
}

export default function App() {
  const ref = useRef<HTMLDivElement>(null);
  useEffect(() => {
    document.body.style.margin = "0";
    if (!ref.current) return;
    const chart = echarts.init(ref.current, null, { renderer: "svg" });
    chart.setOption(buildOption() as any);
    const idx = longHours.indexOf(tooltipHour);
    chart.dispatchAction({ type: "showTip", seriesIndex: 2, dataIndex: idx });
    return () => chart.dispose();
  }, []);
  return (
    <div
      ref={ref}
      style={{ position: "fixed", left: 0, top: 0, width: 1160, height: 498, background: "#fff" }}
    />
  );
}
